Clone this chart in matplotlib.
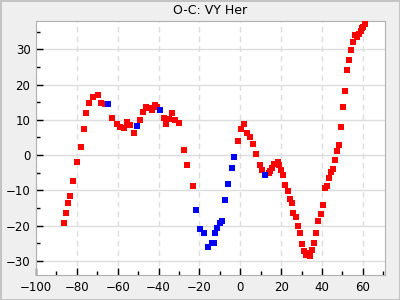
import matplotlib
matplotlib.use("Agg")
import matplotlib.pyplot as plt
from matplotlib.ticker import MultipleLocator

# O-C values (cycles offset, residual)
red_x = [-86.1, -85.2, -84.2, -83.2, -81.7, -79.8, -77.8, -76.3, -75.4, -73.9,
         -71.9, -69.9, -68.4, -66.4, -62.6, -60.2, -58.7, -56.8, -55.3, -53.8,
         -51.9, -48.9, -47.5, -46.0, -44.5, -43.1, -41.6, -40.6, -37.6, -36.2,
         -34.7, -33.2, -31.8, -29.8, -27.8, -25.9, -23.4,
         -1.0, 0.5, 2.0, 3.5, 4.9, 6.4, 7.9, 9.8, 10.8, 13.8, 14.7, 15.7, 16.7,
         18.2, 18.7, 20.1, 21.1, 22.1, 23.1, 24.1, 25.1, 26.0, 27.0, 28.0, 29.0,
         30.0, 31.0, 31.9, 32.9, 33.9, 34.9, 35.9, 36.9, 37.9, 39.4, 40.3, 41.3,
         42.3, 43.3, 44.3, 45.3, 46.3, 47.3, 48.3, 49.2, 50.2, 51.2, 52.2, 53.2,
         54.2, 55.2, 56.2, 57.2, 58.2, 59.1, 59.6, 60.1, 61.1]
red_y = [-19.3, -16.5, -13.6, -11.7, -7.4, -2.0, 2.2, 7.3, 11.9, 14.7,
         16.4, 17.0, 14.7, 14.4, 10.4, 8.7, 7.9, 7.6, 9.3, 8.5,
         6.2, 9.9, 12.1, 13.6, 13.3, 12.7, 14.1, 13.6, 10.4, 8.7,
         10.2, 11.9, 9.9, 9.0, 1.3, -2.9, -8.7,
         3.9, 7.3, 8.7, 6.2, 5.1, 3.1, 0.4, -2.9, -4.3, -5.1, -4.6, -3.7, -2.5,
         -2.0, -2.9, -4.3, -5.7, -8.5, -10.2, -12.5, -13.6, -16.5, -17.6, -20.2, -22.2,
         -25.3, -27.3, -28.4, -27.8, -28.7, -27.0, -25.0, -22.2, -18.8, -16.8, -14.2, -9.4,
         -8.8, -6.6, -4.9, -4.0, -1.5, 1.1, 2.8, 7.9, 13.6, 18.1, 24.1, 26.9,
         29.7, 32.0, 34.0, 33.4, 34.3, 35.1, 36.0, 36.2, 37.1]

blue_x = [-64.6, -50.4, -39.1, -21.5, -19.5, -17.6, -15.6, -14.1, -12.7, -12.2,
          -11.2, -9.8, -8.8, -7.3, -5.8, -4.3, -2.9, 12.3]
blue_y = [14.4, 8.2, 12.7, -15.6, -21.0, -22.2, -26.1, -25.0, -25.0, -22.2,
          -20.7, -19.3, -18.8, -12.8, -8.3, -3.7, -0.6, -5.7]

fig = plt.figure(figsize=(4, 3), dpi=100, facecolor="#efefef",
                 edgecolor="#c4c4c4", linewidth=2)
ax = fig.add_axes([0.09, 0.0833, 0.8725, 0.8467])

ax.scatter(red_x, red_y, marker="s", s=22, color="#ff0000", linewidths=0, zorder=3)
ax.scatter(blue_x, blue_y, marker="s", s=22, color="#0000ff", linewidths=0, zorder=3)

ax.set_xlim(-100, 70.8)
ax.set_ylim(-34, 38)

ax.xaxis.set_major_locator(MultipleLocator(20))
ax.xaxis.set_minor_locator(MultipleLocator(10))
ax.yaxis.set_major_locator(MultipleLocator(10))
ax.yaxis.set_minor_locator(MultipleLocator(5))

ax.grid(axis="x", which="major", color="#dddddd", linestyle=(0, (4, 3)), linewidth=1)
ax.grid(axis="y", which="major", color="#dddddd", linestyle="-", linewidth=1)
ax.set_axisbelow(True)

ax.tick_params(which="both", direction="in", top=False, right=False,
               labelsize=8.5, colors="black", pad=4)
ax.tick_params(which="major", length=5, width=1)
ax.tick_params(which="minor", length=3, width=1)

for side in ["left", "bottom", "right", "top"]:
    ax.spines[side].set_color("#b0b0b0")

ax.set_title("O-C: VY Her", fontsize=9, pad=5)

fig.savefig("out.png", dpi=100, facecolor=fig.get_facecolor(), edgecolor=fig.get_edgecolor())
